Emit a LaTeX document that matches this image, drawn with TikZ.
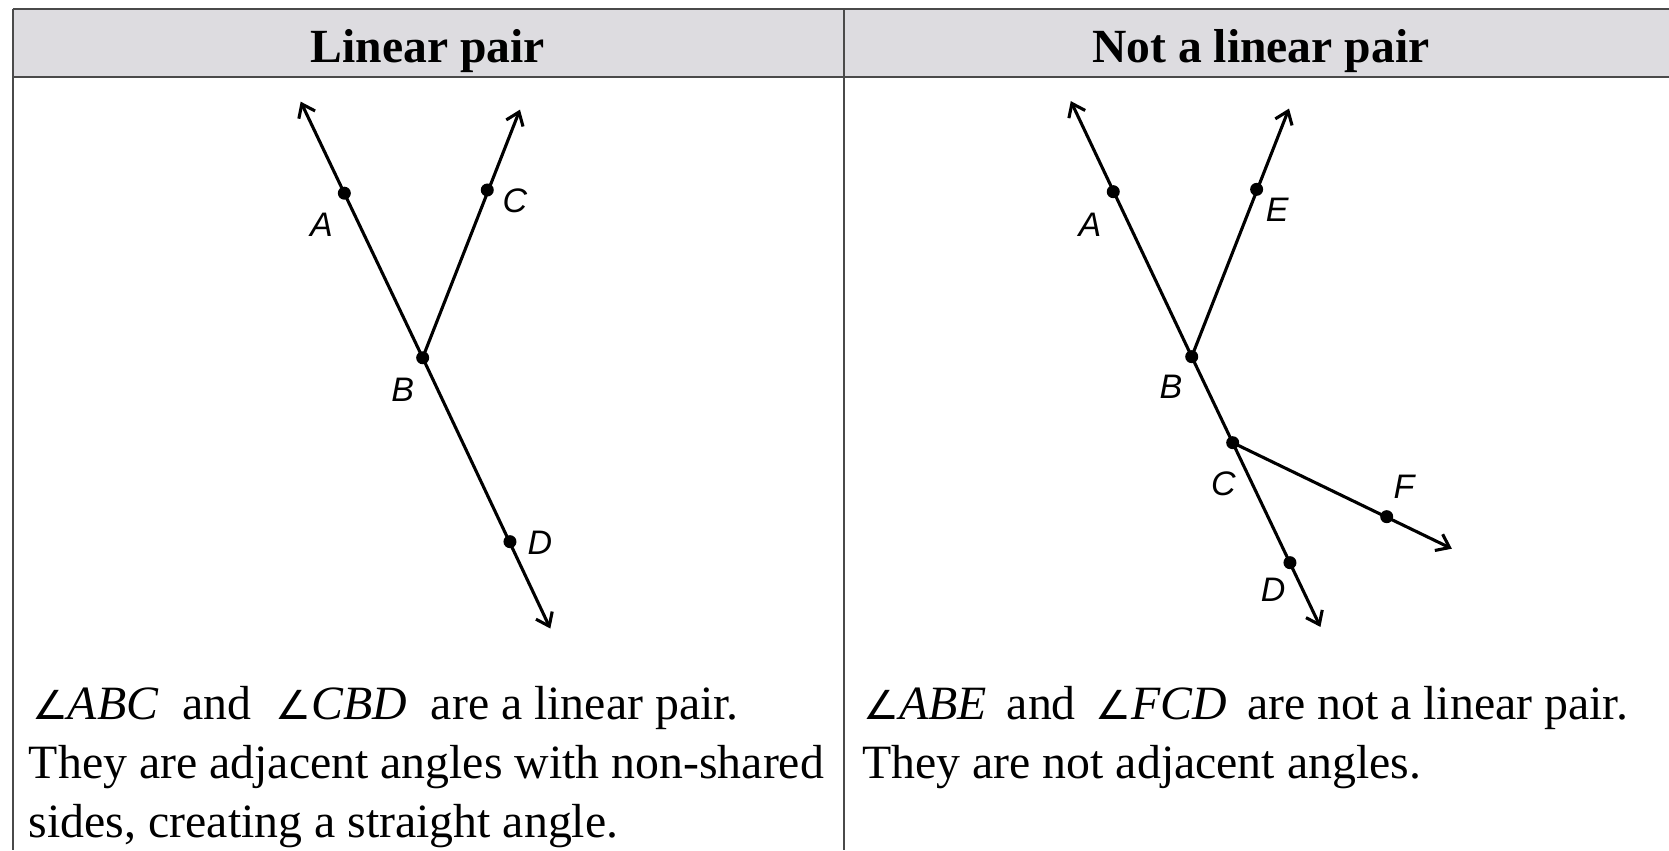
\documentclass[tikz,border=0pt]{standalone}
\usepackage{fontspec}
\setmainfont{Liberation Serif}
\newfontfamily\labfont{Liberation Sans}
\newfontfamily\angfont{DejaVu Sans}
\usetikzlibrary{arrows.meta}
\definecolor{headfill}{HTML}{DDDCE0}
\definecolor{gridcol}{HTML}{4A4A4A}
\newcommand\angsym{{\angfont\fontsize{40}{40}\selectfont ∠}}
\begin{document}
\begin{tikzpicture}[x=1.0644pt,y=-1.0644pt,
  grid/.style={line width=2.2pt, draw=gridcol},
  ray/.style={line width=3.1pt, -{Straight Barb[length=12pt,width=18pt,line width=3.1pt]}},
  dot/.style={circle, fill=black, inner sep=0pt, minimum size=13pt},
  lab/.style={font=\labfont\itshape\fontsize{34}{34}\selectfont, inner sep=0pt},
  head/.style={font=\bfseries\fontsize{47.6}{50}\selectfont, inner sep=0pt, anchor=base},
  body/.style={font=\fontsize{47.8}{57}\selectfont, inner sep=0pt, anchor=base west},
]
\useasboundingbox (0,0) rectangle (1568,798.6);
% table
\fill[headfill] (11.9,8.5) rectangle (1568,72.3);
\draw[grid] (11.9,8.5) -- (1568,8.5);
\draw[grid] (11.9,72.3) -- (1568,72.3);
\draw[grid] (11.9,8.5) -- (11.9,798.6);
\draw[grid] (793,8.5) -- (793,798.6);
\node[head] (h1) at (402,58.5) {Linear pair};
\node[head] (h2) at (1184.5,58.5) {Not a linear pair};

% left figure
\coordinate (LAt) at (282.5,95.5);
\coordinate (LCt) at (488.5,103);
\coordinate (LDt) at (517,590.5);
\node[dot] (LA) at (323.5,181.5) {};
\node[dot] (LB) at (397.1,336.1) {};
\node[dot] (LC) at (457.8,178.5) {};
\node[dot] (LD) at (479.1,508.9) {};
\draw[ray] (LB.center) -- (LAt);
\draw[ray] (LB.center) -- (LCt);
\draw[ray] (LB.center) -- (LDt);
\node[lab] (lA) at (302,211) {A};
\node[lab] (lC) at (483.8,188.8) {C};
\node[lab] (lB) at (378.3,365.8) {B};
\node[lab] (lD) at (507.3,509.9) {D};

% right figure
\coordinate (RAt) at (1006,95);
\coordinate (REt) at (1211,102);
\coordinate (RDt) at (1240.5,589);
\coordinate (RFt) at (1364,515.5);
\node[dot] (RA) at (1045.9,180.1) {};
\node[dot] (RB) at (1119.6,335.1) {};
\node[dot] (RE) at (1180.6,177.9) {};
\node[dot] (RC) at (1158.1,415.9) {};
\node[dot] (RD) at (1211.9,528.6) {};
\node[dot] (RF) at (1302.8,485.4) {};
\draw[ray] (RB.center) -- (RAt);
\draw[ray] (RB.center) -- (REt);
\draw[ray] (RB.center) -- (RDt);
\draw[ray] (RC.center) -- (RFt);
\node[lab] (rA) at (1024,211.4) {A};
\node[lab] (rE) at (1200,197.3) {E};
\node[lab] (rB) at (1100,363) {B};
\node[lab] (rC) at (1149.3,454.1) {C};
\node[lab] (rF) at (1319,457.8) {F};
\node[lab] (rD) at (1196.2,554.3) {D};

% texts
\node[body] (t1) at (30,676) {\angsym\textit{ABC}\ \ and \ \angsym\textit{CBD}\ \ are a linear pair.};
\node[body] (t2) at (27,731) {They are adjacent angles with non-shared};
\node[body] (t3) at (27,787) {sides, creating a straight angle.};
\node[body] (t4) at (811,676) {\angsym\textit{ABE}\ \,and\ \,\angsym\textit{FCD}\ \,are not a linear pair.};
\node[body] (t5) at (810,731) {They are not adjacent angles.};
\end{tikzpicture}
\end{document}
